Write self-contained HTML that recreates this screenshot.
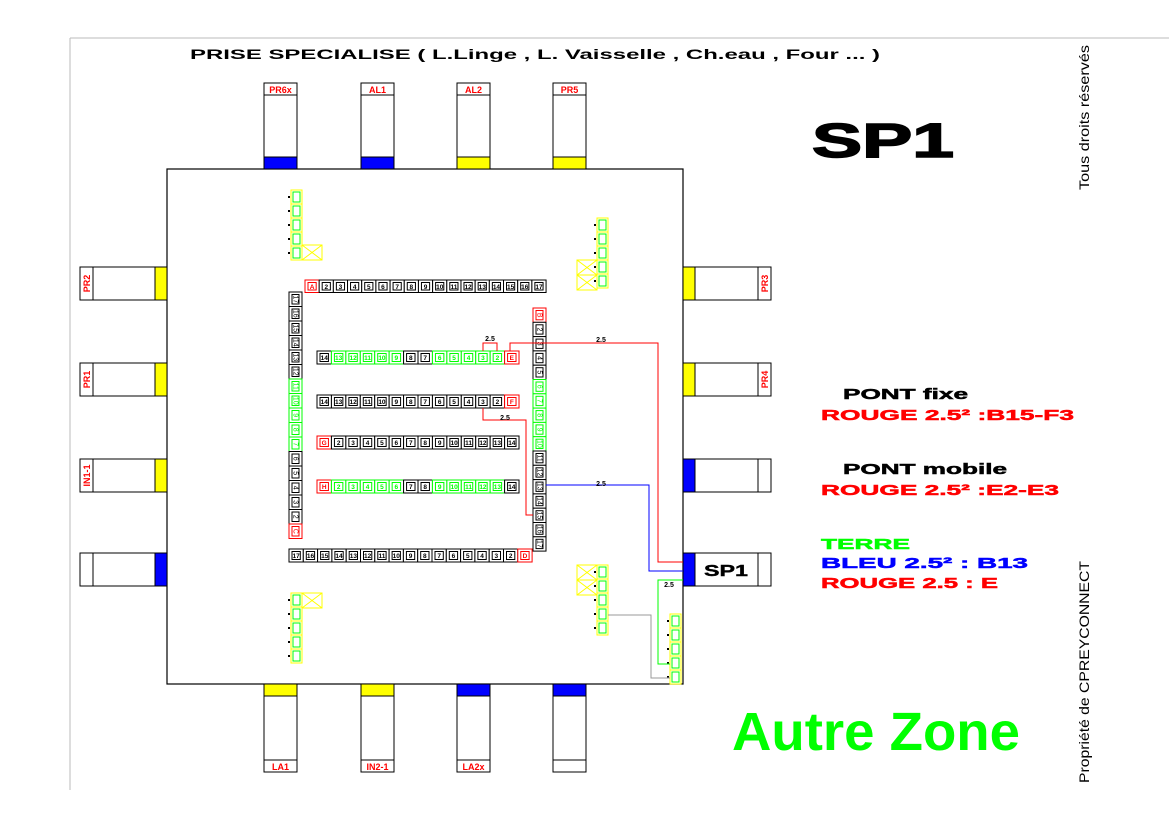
<!DOCTYPE html>
<html><head><meta charset="utf-8"><style>
html,body{margin:0;padding:0;background:#fff;}
svg{display:block;font-family:"Liberation Sans",sans-serif;}
</style></head><body>
<svg id="s" width="1169" height="826" viewBox="0 0 1169 826" xmlns="http://www.w3.org/2000/svg">
<rect width="1169" height="826" fill="#fff"/>
<line x1="70" y1="38" x2="1169" y2="38" stroke="#bbb" stroke-width="1"/>
<line x1="70" y1="38" x2="70" y2="790" stroke="#bbb" stroke-width="1"/>
<rect x="167" y="169" width="516" height="515" fill="none" stroke="#000" stroke-width="1.2"/>
<text x="190" y="59" font-size="13.5" font-weight="bold" textLength="690" lengthAdjust="spacingAndGlyphs">PRISE SPECIALISE ( L.Linge , L. Vaisselle , Ch.eau , Four ... )</text>
<text x="812" y="157" font-size="48" font-weight="bold" stroke="#000" stroke-width="1.5" textLength="142" lengthAdjust="spacingAndGlyphs">SP1</text>
<text transform="translate(1089,190) rotate(-90)" font-size="14" textLength="145" lengthAdjust="spacingAndGlyphs">Tous droits réservés</text>
<text transform="translate(1089,783) rotate(-90)" font-size="14" textLength="222" lengthAdjust="spacingAndGlyphs">Propriété de CPREYCONNECT</text>
<g font-size="15" font-weight="bold" stroke-width="0.5" lengthAdjust="spacingAndGlyphs">
<text x="843" y="399" stroke="#000" textLength="125" lengthAdjust="spacingAndGlyphs">PONT fixe</text>
<text x="821" y="420" fill="#f00" stroke="#f00" textLength="253" lengthAdjust="spacingAndGlyphs">ROUGE 2.5² :B15-F3</text>
<text x="843" y="474" stroke="#000" textLength="164" lengthAdjust="spacingAndGlyphs">PONT mobile</text>
<text x="821" y="495" fill="#f00" stroke="#f00" textLength="238" lengthAdjust="spacingAndGlyphs">ROUGE 2.5² :E2-E3</text>
<text x="821" y="549" fill="#0f0" stroke="#0f0" textLength="89" lengthAdjust="spacingAndGlyphs">TERRE</text>
<text x="821" y="568" fill="#00f" stroke="#00f" textLength="207" lengthAdjust="spacingAndGlyphs">BLEU 2.5²  : B13</text>
<text x="821" y="588" fill="#f00" stroke="#f00" textLength="177" lengthAdjust="spacingAndGlyphs">ROUGE 2.5 : E</text>
</g>
<text x="732" y="750" font-size="54" font-weight="bold" fill="#0f0" textLength="288" lengthAdjust="spacingAndGlyphs">Autre Zone</text>
<g id="g"></g>
</svg>
<script>
var g=document.getElementById('g'),h='';
function R(x,y,w,hh,f,s,sw){h+='<rect x="'+x+'" y="'+y+'" width="'+w+'" height="'+hh+'" fill="'+(f||'none')+'" stroke="'+(s||'#000')+'" stroke-width="'+(sw||1)+'"/>';}
function L(p,c){h+='<polyline points="'+p+'" fill="none" stroke="'+c+'" stroke-width="1"/>';}
function T(x,y,t,sz,c,extra){h+='<text x="'+x+'" y="'+y+'" font-size="'+sz+'" fill="'+(c||'#000')+'" text-anchor="middle" font-weight="bold" '+(extra||'')+'>'+t+'</text>';}
var tx=[264,361,457,553],tl=['PR6x','AL1','AL2','PR5'],tc=['#00f','#00f','#ff0','#ff0'];
for(var i=0;i<4;i++){R(tx[i],83,33,86,'#fff');R(tx[i],83,33,12,'#fff');R(tx[i],157,33,12,tc[i],tc[i]);R(tx[i],157,33,12,'none');T(tx[i]+16.5,93,tl[i],9,'#f00');}
var bl=['LA1','IN2-1','LA2x',''],bc=['#ff0','#ff0','#00f','#00f'];
for(i=0;i<4;i++){R(tx[i],684,33,88,'#fff');R(tx[i],684,33,12,bc[i],bc[i]);R(tx[i],684,33,12,'none');R(tx[i],760,33,12,'none');T(tx[i]+16.5,770,bl[i],9,'#f00');}
var ly=[267,363,459,553],ll=['PR2','PR1','IN1-1',''],lc=['#ff0','#ff0','#ff0','#00f'];
for(i=0;i<4;i++){R(80,ly[i],87,33,'#fff');R(155,ly[i],12,33,lc[i],lc[i]);R(155,ly[i],12,33,'none');R(80,ly[i],13,33,'none');h+='<text transform="translate(90,'+(ly[i]+16.5)+') rotate(-90)" font-size="9" fill="#f00" font-weight="bold" text-anchor="middle">'+ll[i]+'</text>';}
var rl=['PR3','PR4','',''],rc=['#ff0','#ff0','#00f','#00f'];
for(i=0;i<4;i++){R(683,ly[i],88,33,'#fff');R(683,ly[i],12,33,rc[i],rc[i]);R(683,ly[i],12,33,'none');R(758,ly[i],13,33,'none');h+='<text transform="translate(768,'+(ly[i]+16.5)+') rotate(-90)" font-size="9" fill="#f00" font-weight="bold" text-anchor="middle">'+rl[i]+'</text>';}
h+='<text x="726" y="576" font-size="16" font-weight="bold" text-anchor="middle" stroke="#000" stroke-width="0.4" textLength="44" lengthAdjust="spacingAndGlyphs">SP1</text>';
function cell(x,y,w,hh,lab,col,vert){R(x,y,w,hh,'#fff',col);R(x+3,y+2.5,w-6,hh-5,'none',col);
 if(vert){h+='<text transform="translate('+(x+w/2-2)+','+(y+hh/2)+') rotate(90)" font-size="7" fill="'+col+'" text-anchor="middle">'+lab+'</text>';}
 else T(x+w/2,y+hh/2+2.5,lab,6.5,col,'font-weight="normal"');}
var G='#0f0',K='#000',Rd='#f00';
for(i=0;i<17;i++){cell(305+i*14.18,280,14.18,12.5,i==0?'A':i+1,i==0?Rd:K);}
for(i=0;i<17;i++){var n=17-i;var c=K;if(n>=7&&n<=11)c=G;if(n==1)c=Rd;cell(289,292+i*14.5,13,14.5,n==1?'C':n,c,1);}
for(i=0;i<17;i++){n=i+1;c=K;if(n>=6&&n<=10)c=G;if(n==1)c=Rd;cell(533,308+i*14.3,13,14.3,n==1?'B':n,c,1);}
for(i=0;i<17;i++){n=17-i;cell(289+i*14.3,549,14.3,13,n==1?'D':n,n==1?Rd:K);}
var rows=[[351,'E',1,[2,3,4,5,6,9,10,11,12,13]],[395,'F',1,[]],[436,'G',0,[]],[480,'H',0,[2,3,4,5,6,9,10,11,12,13]]];
rows.forEach(function(r){for(var j=0;j<14;j++){var num=r[2]?14-j:j+1;var c=r[3].indexOf(num)>=0?G:K;if(num==1)c=Rd;cell(317+j*14.43,r[0],14.43,13,num==1?r[1]:num,c);}});
function strip(x,y,nn,bx,by,bh){for(var k=0;k<nn;k++){R(x,y+k*14,11,14,'#fff','#ff0');R(x+2,y+k*14+2,7,10,'none',G);h+='<rect x="'+(x-3)+'" y="'+(y+k*14+6)+'" width="2" height="2" fill="#000"/>';}
 if(bx!==undefined){for(var m=0;m<bh;m++){R(bx,by+m*15,20,15,'none','#ff0');L(bx+','+(by+m*15)+' '+(bx+20)+','+(by+m*15+15),'#ff0');L(bx+','+(by+m*15+15)+' '+(bx+20)+','+(by+m*15),'#ff0');}}}
strip(291,190,5,302,245,1);
strip(597,218,5,577,260,2);
strip(291,593,5,302,593,1);
strip(597,565,5,577,565,2);
strip(670,614,5);
L('510,351 510,343 553,343 658,343 658,562 683,562','#f00');
L('483,351 483,343 497,343 497,351','#f00');
T(490,341,'2.5',7,'#000');
T(601,342,'2.5',7,'#000');
L('483,408 483,420 526,420 526,515 533,515','#f00');
T(505,420,'2.5',7,'#000');
L('546,485 649,485 649,571 683,571','#00f');
T(601,486,'2.5',7,'#000');
L('683,580 658,580 658,664 670,664','#0f0');
T(669,587,'2.5',7,'#000');
L('608,615 651,615 651,678 670,678','#999');
g.innerHTML=h;
</script>
</body></html>
